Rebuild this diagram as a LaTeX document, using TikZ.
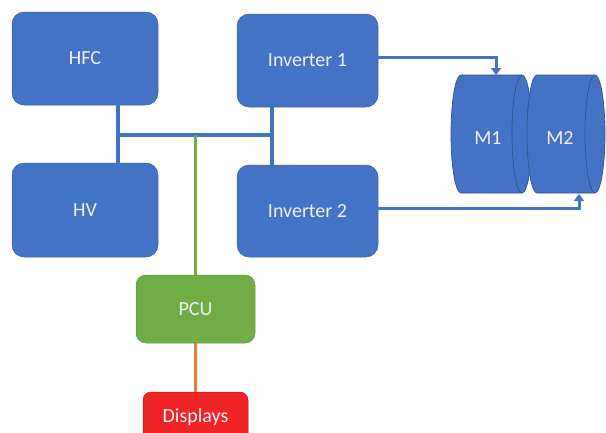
\documentclass[tikz,border=0pt]{standalone}
\usepackage{fontspec}
\setmainfont{Carlito}
\usepackage{tikz}
\usetikzlibrary{arrows.meta,positioning,shapes,calc}
\definecolor{boxblue}{HTML}{4472C4}
\definecolor{edgeblue}{HTML}{2F528F}
\definecolor{boxgreen}{HTML}{70AD47}
\definecolor{edgegreen}{HTML}{5E9A3A}
\definecolor{boxred}{HTML}{F02424}
\definecolor{edgered}{HTML}{C01A1A}
\definecolor{wireorange}{HTML}{ED7D31}
\definecolor{labelwhite}{HTML}{EEF2FA}
\tikzset{
  bluebox/.style={
    draw=boxblue!85!black, fill=boxblue, line width=0.5pt,
    rounded corners=12pt, text=labelwhite,
    font=\fontsize{20}{24}\selectfont
  },
  greenbox/.style={
    draw=edgegreen, fill=boxgreen, line width=0.5pt,
    rounded corners=10pt, text=labelwhite,
    font=\fontsize{20}{24}\selectfont
  },
  redbox/.style={
    draw=edgered, fill=boxred, line width=0.5pt,
    rounded corners=8pt, text=labelwhite,
    font=\fontsize{20}{24}\selectfont
  },
  motorbody/.style={draw=edgeblue, fill=boxblue, line width=0.7pt},
  motorlabel/.style={text=labelwhite, inner sep=0pt,
    font=\fontsize{20}{24}\selectfont},
  busline/.style={draw=boxblue, line width=3.5pt},
  feedline/.style={draw=boxblue, line width=3pt,
    -{Triangle[width=10pt,length=7pt]}},
  pculine/.style={draw=boxgreen, line width=3.2pt},
  displine/.style={draw=wireorange, line width=3.2pt}
}

\begin{document}
\begin{tikzpicture}[x=1pt,y=-1pt]
  \useasboundingbox (0,0) rectangle (606,432);
  % power sources and inverters
  \node[bluebox,minimum width=146pt,minimum height=93pt] (hfc) at (85,58.5) {HFC};
  \node[bluebox,minimum width=146pt,minimum height=94pt] (hv) at (85,210) {HV};
  \node[bluebox,minimum width=141pt,minimum height=93pt] (invone) at (307.5,60.5) {Inverter 1};
  \node[bluebox,minimum width=141pt,minimum height=92pt] (invtwo) at (307.5,211) {Inverter 2};
  % control unit and displays
  \node[greenbox,minimum width=119pt,minimum height=68pt] (pcu) at (195.5,309) {PCU};
  \node[redbox,minimum width=105pt,minimum height=50pt] (disp) at (195.5,417) {Displays};
  % motors, drawn as lying cylinders
  \draw[motorbody] (461,75) -- (522,75) arc (90:-90:10pt and 59pt)
    -- (461,193) arc (-90:-270:10pt and 59pt) -- cycle;
  \draw[edgeblue,line width=0.7pt] (522,75) arc (90:270:10pt and 59pt);
  \draw[motorbody] (537,75) -- (595,75) arc (90:-90:10pt and 59pt)
    -- (537,193) arc (-90:-270:10pt and 59pt) -- cycle;
  \draw[edgeblue,line width=0.7pt] (595,75) arc (90:270:10pt and 59pt);
  \node[motorlabel] (mone) at (488,138) {M1};
  \node[motorlabel] (mtwo) at (560,138) {M2};
  \coordinate (monein) at (496,75);
  \coordinate (mtwoin) at (579,194);
  % bus
  \coordinate (busl) at (118,135);
  \coordinate (busr) at (272,135);
  \draw[busline] (hfc.south -| busl) -- (hv.north -| busl);
  \draw[busline] (invone.south -| busr) -- (invtwo.north -| busr);
  \draw[busline] (busl) -- (busr);
  \draw[pculine] (pcu.north) -- (pcu.north |- busl);
  \draw[displine] (pcu.south) -- (disp.north);
  % feeds to motors
  \draw[feedline] ([yshift=3.5pt]invone.east) -| (monein);
  \draw[feedline] ([yshift=3pt]invtwo.east) -| (mtwoin);
\end{tikzpicture}
\end{document}
